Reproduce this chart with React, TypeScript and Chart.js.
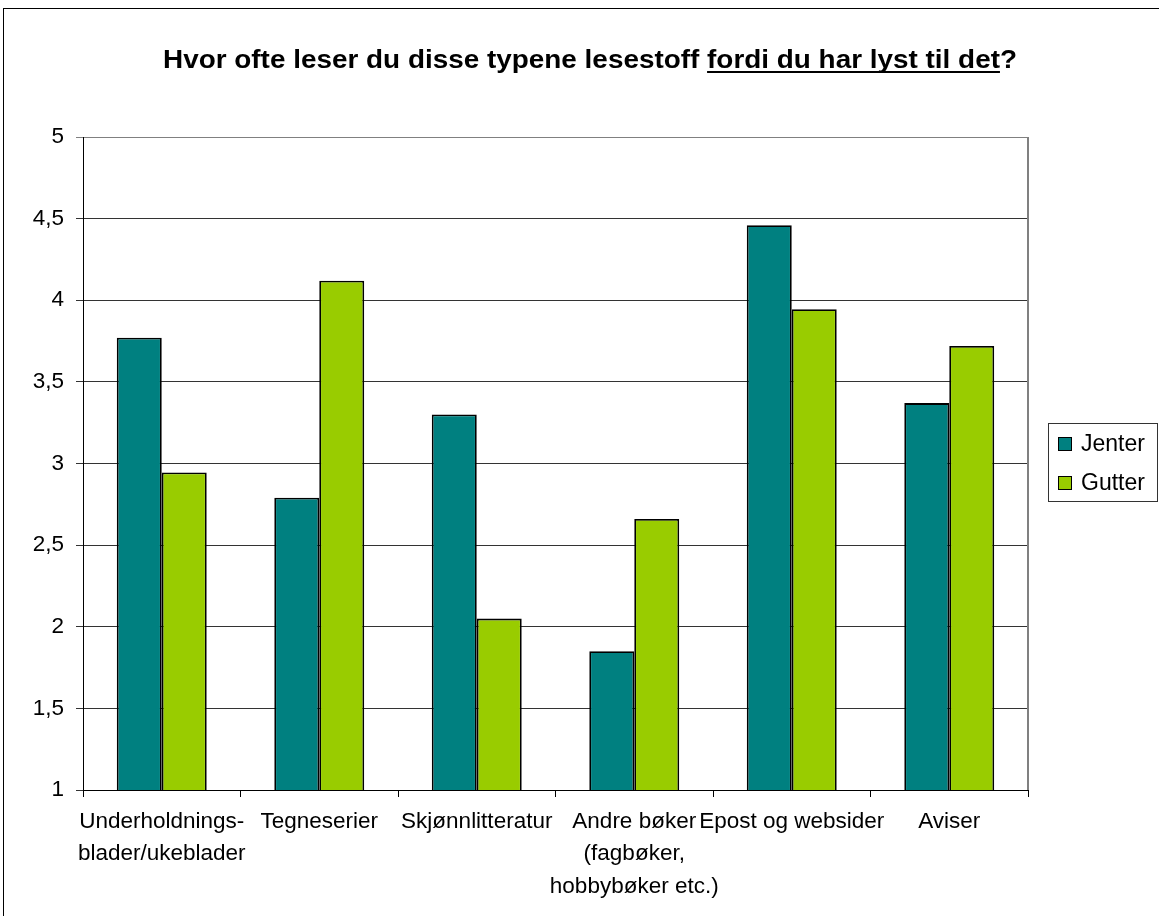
import React, { useEffect, useRef } from "react";
import { Chart, registerables } from "chart.js";

Chart.register(...registerables);

const categories: (string | string[])[] = [
  ["Underholdnings-", "blader/ukeblader"],
  "Tegneserier",
  "Skjønnlitteratur",
  ["Andre bøker", "(fagbøker,", "hobbybøker etc.)"],
  "Epost og websider",
  "Aviser",
];
const jenter = [3.77, 2.79, 3.3, 1.85, 4.46, 3.37];
const gutter = [2.945, 4.12, 2.05, 2.66, 3.945, 3.72];
const seriesNames = ["Jenter", "Gutter"];
const seriesColors = ["#008080", "#99CC00"];
const yTickLabels = ["1", "1,5", "2", "2,5", "3", "3,5", "4", "4,5", "5"];
const titleParts = ["Hvor ofte leser du disse typene lesestoff ", "fordi du har lyst til det", "?"];

const FONT = '"Liberation Sans", Arial, sans-serif';

const decorPlugin = {
  id: "decor",
  beforeDraw(chart: any) {
    const ctx = chart.ctx;
    ctx.save();
    ctx.fillStyle = "#ffffff";
    ctx.fillRect(0, 0, chart.width, chart.height);
    ctx.restore();
  },
  afterDraw(chart: any) {
    const ctx = chart.ctx;
    const ca = chart.chartArea;
    ctx.save();
    // outer frame
    ctx.strokeStyle = "#000000";
    ctx.lineWidth = 1;
    ctx.strokeRect(3.5, 8.5, 1300, 1100);
    // plot area right border
    ctx.strokeStyle = "#808080";
    ctx.lineWidth = 2;
    ctx.beginPath();
    ctx.moveTo(ca.right, ca.top);
    ctx.lineTo(ca.right, ca.bottom);
    ctx.stroke();

    // title (fitted to the reference width)
    ctx.font = "bold 25px " + FONT;
    ctx.fillStyle = "#000000";
    ctx.textBaseline = "alphabetic";
    ctx.textAlign = "left";
    const widths = titleParts.map((p) => ctx.measureText(p).width);
    const total = widths.reduce((a, b) => a + b, 0);
    const targetW = 854;
    const sx = targetW / total;
    const left = 590 - targetW / 2;
    const baseY = 68;
    ctx.save();
    ctx.translate(left, 0);
    ctx.scale(sx, 1);
    let x = 0;
    titleParts.forEach((p, i) => {
      ctx.fillText(p, x, baseY);
      x += widths[i];
    });
    ctx.restore();
    // underline
    const uStart = left + widths[0] * sx;
    const uEnd = uStart + widths[1] * sx;
    ctx.strokeStyle = "#000000";
    ctx.lineWidth = 2;
    ctx.beginPath();
    ctx.moveTo(uStart, baseY + 4);
    ctx.lineTo(uEnd, baseY + 4);
    ctx.stroke();

    // legend
    const lx = 1048, ly = 423, lw = 109, lh = 78;
    ctx.strokeStyle = "#333333";
    ctx.lineWidth = 1;
    ctx.strokeRect(lx + 0.5, ly + 0.5, lw, lh);
    ctx.font = "23px " + FONT;
    ctx.textBaseline = "middle";
    seriesNames.forEach((n, i) => {
      const cy = ly + 21 + i * 39;
      ctx.fillStyle = seriesColors[i];
      ctx.fillRect(lx + 10, cy - 7, 13, 13);
      ctx.strokeStyle = "#000000";
      ctx.strokeRect(lx + 10.5, cy - 6.5, 13, 13);
      ctx.fillStyle = "#000000";
      ctx.fillText(n, lx + 33, cy + 1);
    });
    ctx.restore();
  },
};

export default function App() {
  const ref = useRef<HTMLCanvasElement | null>(null);
  useEffect(() => {
    if (!ref.current) return;
    const chart = new Chart(ref.current, {
      type: "bar",
      data: {
        labels: categories,
        datasets: [
          {
            label: seriesNames[0],
            data: jenter,
            backgroundColor: seriesColors[0],
            borderColor: "#000000",
            borderWidth: 1.8,
            categoryPercentage: 0.571,
            barPercentage: 1,
          },
          {
            label: seriesNames[1],
            data: gutter,
            backgroundColor: seriesColors[1],
            borderColor: "#000000",
            borderWidth: 1.8,
            categoryPercentage: 0.571,
            barPercentage: 1,
          },
        ],
      },
      options: {
        animation: false,
        responsive: false,
        maintainAspectRatio: false,
        layout: { padding: { left: 0, right: 131, top: 137, bottom: 0 } },
        plugins: {
          legend: { display: false },
          title: { display: false },
          tooltip: { enabled: false },
        },
        scales: {
          x: {
            offset: true,
            grid: {
              offset: true,
              drawOnChartArea: false,
              drawTicks: true,
              tickLength: 7,
              color: "#000000",
            },
            border: { color: "#000000", width: 1 },
            ticks: {
              color: "#000000",
              font: { family: FONT, size: 22.5, lineHeight: 1.45 },
              padding: 8,
              maxRotation: 0,
              autoSkip: false,
            },
            afterFit(scale: any) {
              scale.height = 126;
            },
          },
          y: {
            min: 1,
            max: 5,
            grid: {
              color: (c: any) => (c.tick && c.tick.value === 5 ? "#808080" : "#333333"),
              lineWidth: 1,
              tickLength: 7,
            },
            border: { color: "#000000", width: 1 },
            ticks: {
              stepSize: 0.5,
              color: "#000000",
              font: { family: FONT, size: 22.5 },
              padding: 12,
              callback: (_v: any, i: number) => yTickLabels[i],
            },
            afterFit(scale: any) {
              scale.width = 83;
            },
          },
        },
      },
      plugins: [decorPlugin],
    });
    return () => chart.destroy();
  }, []);
  return (
    <div style={{ position: "fixed", left: 0, top: 0, width: 1159, height: 916, overflow: "hidden", background: "#fff" }}>
      <canvas ref={ref} width={1159} height={916} style={{ display: "block", width: 1159, height: 916 }} />
    </div>
  );
}
